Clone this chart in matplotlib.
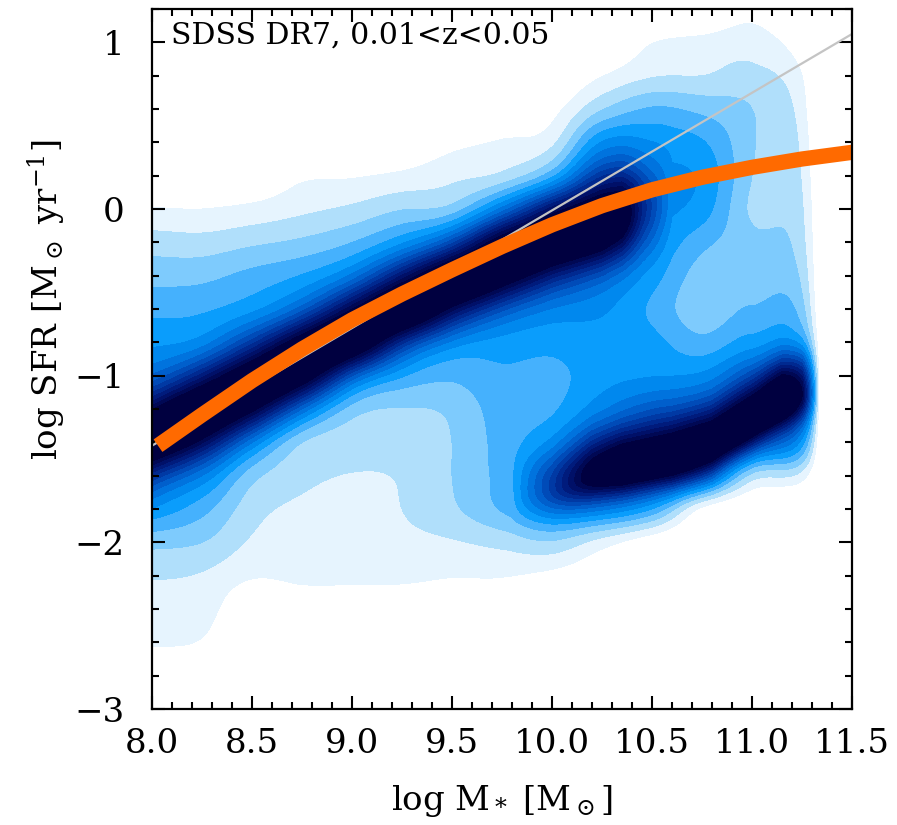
import numpy as np
import matplotlib
matplotlib.use("Agg")
import matplotlib.pyplot as plt
from matplotlib.ticker import MultipleLocator, FormatStrFormatter

plt.rcParams['font.family'] = ['DejaVu Serif']
plt.rcParams['mathtext.fontset'] = 'dejavuserif'

# ---------------- data ----------------
# background density level map (contour level index) on a coarse grid
grid_x = [8.0, 8.25, 8.5, 8.75, 9.0, 9.25, 9.5, 9.75, 10.0, 10.25, 10.5, 10.75, 11.0, 11.25, 11.5]
grid_y = [1.2, 1.0, 0.8, 0.6, 0.4, 0.2, 0.0, -0.2, -0.4, -0.6, -0.8, -1.0,
          -1.2, -1.4, -1.6, -1.8, -2.0, -2.2, -2.4, -2.6, -2.8, -3.0]
col_800 = [-1, -1, -1, -1, -0.8, -0.3, 0.55, 2.0, 3.1, 4.2, 5.2, 6.3, 7.3, 7.3, 5.8, 4.8, 2.8, 1.6, 1.1, 0.6, -0.3, -0.8]
col_825 = [-1, -1, -1, -1, -0.8, -0.3, 0.5, 1.9, 3.2, 4.3, 5.3, 6.8, 7.6, 7.0, 5.3, 3.8, 2.5, 1.4, 1.0, 0.4, -0.5, -1]
col_850 = [-1, -1, -1, -1, -0.8, -0.5, 0.75, 2.3, 3.8, 4.9, 6.8, 7.6, 6.4, 4.3, 2.7, 1.9, 1.35, 0.6, -0.6, -1, -1, -1]
col_875 = [-1, -1, -1, -1, -0.8, 0.3, 1.25, 2.7, 4.4, 5.8, 7.6, 6.8, 4.2, 2.2, 1.8, 1.25, 0.9, 0.7, -0.2, -0.8, -1, -1]
col_900 = [-1, -1, -1, -1, -0.6, 0.4, 1.7, 3.4, 5.3, 7.0, 7.3, 4.0, 2.5, 1.9, 1.45, 0.9, 0.9, 0.7, -0.2, -0.8, -1, -1]
col_925 = [-1, -1, -1, -1, -0.5, 0.7, 2.4, 4.5, 7.0, 7.6, 4.6, 3.6, 2.4, 2.0, 1.6, 1.5, 1.2, 0.7, -0.2, -0.8, -1, -1]
col_950 = [-1, -1, -1, -0.8, 0.2, 1.2, 2.5, 5.3, 7.6, 5.8, 4.4, 3.6, 2.7, 2.5, 2.5, 2.3, 1.4, 0.55, -0.3, -0.8, -1, -1]
col_975 = [-1, -1, -1, -0.6, 0.6, 1.6, 4.6, 7.6, 7.0, 5.6, 4.8, 4.3, 4.0, 3.9, 3.9, 3.6, 1.8, 0.55, -0.3, -0.8, -1, -1]
col_1000 = [-1, -1, -0.8, 0.1, 1.2, 3.2, 6.8, 7.6, 6.5, 5.6, 4.8, 4.2, 4.3, 5.0, 6.0, 5.0, 2.3, 0.2, -0.5, -0.8, -1, -1]
col_1025 = [-1, -0.8, 0.45, 2.4, 5.3, 7.3, 7.8, 7.3, 6.0, 5.5, 5.1, 5.1, 5.8, 7.0, 7.3, 5.3, 1.0, -0.5, -1, -1, -1, -1]
col_1050 = [-1, 0.45, 1.4, 3.6, 5.2, 5.8, 6.0, 5.6, 4.8, 4.3, 4.8, 5.4, 7.0, 7.6, 7.3, 4.0, -0.3, -1, -1, -1, -1, -1]
col_1075 = [-0.8, 0.8, 1.5, 3.2, 4.6, 5.3, 5.0, 3.8, 3.0, 2.8, 3.8, 5.5, 7.0, 7.6, 6.3, 0.2, -1, -1, -1, -1, -1, -1]
col_1100 = [0.2, 1.0, 1.8, 2.5, 2.6, 2.5, 2.3, 2.8, 2.8, 3.6, 4.8, 6.8, 7.6, 6.8, 2.0, -1, -1, -1, -1, -1, -1, -1]
col_1125 = [-1, -0.3, 0.5, 0.9, 1.2, 1.4, 1.6, 1.8, 2.2, 2.8, 3.6, 5.8, 6.8, 4.8, 1.0, -1.5, -1.5, -1.5, -1.5, -1.5, -1.5, -1.5]
col_1150 = [-3, -4, -5, -6, -6, -6, -6, -6, -7, -8, -9, -14, -16, -12, -6, -3, -3, -3, -3, -3, -3, -3]

# star-forming sequence ridge (dense core)
sf_x = [7.8, 8.0, 8.25, 8.5, 8.75, 9.0, 9.25, 9.5, 9.75, 10.0, 10.25, 10.35, 10.45, 10.6]
sf_y = [-1.51, -1.37, -1.22, -1.08, -0.92, -0.76, -0.61, -0.46, -0.32, -0.19, -0.09, -0.04, 0.0, 0.05]
sf_amp = [11, 11, 11, 11, 11, 11, 11, 11, 11, 11, 11, 10, 5, 0]
sf_width = [0.18, 0.18]          # upper, lower

# quenched cloud ridge
q_x = [9.8, 10.0, 10.2, 10.35, 10.6, 10.8, 11.0, 11.15, 11.25, 11.34]
q_y = [-1.72, -1.68, -1.6, -1.56, -1.5, -1.42, -1.27, -1.15, -1.1, -1.08]
q_amp = [0, 4, 9, 11, 11, 11, 11, 11, 8, 0]
q_width = [0.16, 0.11]

# lines
fit_x = [8.03, 8.25, 8.5, 8.75, 9.0, 9.25, 9.5, 9.75, 10.0, 10.25, 10.5, 10.75, 11.0, 11.25, 11.5]
fit_y = [-1.42, -1.235, -1.03, -0.84, -0.665, -0.51, -0.365, -0.225, -0.095, 0.02, 0.115, 0.19, 0.25, 0.30, 0.34]
lin_x = [8.0, 11.5]
lin_y = [-1.42, 1.05]

level_colors = ['#e6f4fe', '#b0dffb', '#7ecbfd', '#45b1fd', '#0a9dfc', '#0088ee',
                '#0073de', '#005fcc', '#004bb8', '#0039a4', '#002990', '#001b7c',
                '#001068', '#000854', '#000040']

# ---------------- build the density field ----------------
G = np.array([col_800, col_825, col_850, col_875, col_900, col_925, col_950, col_975,
              col_1000, col_1025, col_1050, col_1075, col_1100, col_1125, col_1150], float).T
gy = np.array(grid_y)[::-1]
G = G[::-1]
gx = np.array(grid_x)

def cr_matrix(nodes, t_vals):
    n = len(nodes)
    step = nodes[1] - nodes[0]
    t = (t_vals - nodes[0]) / step
    i = np.clip(np.floor(t).astype(int), 0, n - 2)
    u = t - i
    ws = [(-u**3 + 2*u**2 - u) / 2, (3*u**3 - 5*u**2 + 2) / 2,
          (-3*u**3 + 4*u**2 + u) / 2, (u**3 - u**2) / 2]
    M = np.zeros((len(t_vals), n))
    rows = np.arange(len(t_vals))
    for k, w in zip(range(-1, 3), ws):
        np.add.at(M, (rows, np.clip(i + k, 0, n - 1)), w)
    return M

xf = np.linspace(8.0, 11.5, 701)
yf = np.linspace(-3.0, 1.2, 841)
XF, YF = np.meshgrid(xf, yf)
field = cr_matrix(gy, yf) @ G @ cr_matrix(gx, xf).T

def ridge(X, Y, kx, ky, ka, widths):
    yc = np.interp(X, kx, ky)
    a = np.interp(X, kx, ka, left=0, right=0)
    d = Y - yc
    s = np.where(d > 0, widths[0], widths[1])
    return a * np.exp(-0.5 * (d / s) ** 2)

field = field + ridge(XF, YF, sf_x, sf_y, sf_amp, sf_width) + ridge(XF, YF, q_x, q_y, q_amp, q_width)

levels = [k + 0.5 for k in range(15)] + [1000]

# ---------------- plot ----------------
fig = plt.figure(figsize=(8.97, 8.25), dpi=100)
ax = fig.add_axes([152/897, 1 - 709/825, 700/897, 700/825])
ax.contourf(XF, YF, field, levels=levels, colors=level_colors, zorder=1)
ax.plot(lin_x, lin_y, color='#c4c4c4', lw=1.6, zorder=2)
ax.plot(fit_x, fit_y, color='#ff6a00', lw=11, solid_capstyle='butt', zorder=3)

ax.set_xlim(8.0, 11.5)
ax.set_ylim(-3.0, 1.2)
ax.xaxis.set_major_locator(MultipleLocator(0.5))
ax.xaxis.set_minor_locator(MultipleLocator(0.1))
ax.yaxis.set_major_locator(MultipleLocator(1))
ax.yaxis.set_minor_locator(MultipleLocator(0.2))
ax.xaxis.set_major_formatter(FormatStrFormatter('%.1f'))
ax.tick_params(which='both', direction='in', top=True, right=True, width=1.5, labelsize=24.5)
ax.tick_params(which='major', length=9.5)
ax.tick_params(which='minor', length=5)
ax.tick_params(axis='x', pad=14)
ax.tick_params(axis='y', pad=20)
for sp in ax.spines.values():
    sp.set_linewidth(1.6)
    sp.set_zorder(5)

ax.set_xlabel(r'log M$_*$ [M$_\odot$]', fontsize=24.5)
ax.xaxis.set_label_coords(0.5, -0.132)
ax.set_ylabel(r'log SFR [M$_\odot$ yr$^{-1}$]', fontsize=24.5)
ax.yaxis.set_label_coords(-0.15, 0.584)
ax.xaxis.label.set_va('center')
ax.yaxis.label.set_va('center')

ax.text(0.027, 0.95, 'SDSS DR7, 0.01<z<0.05', transform=ax.transAxes,
        fontsize=21.5, va='baseline', ha='left', zorder=6)

fig.savefig('out.png', dpi=100)
